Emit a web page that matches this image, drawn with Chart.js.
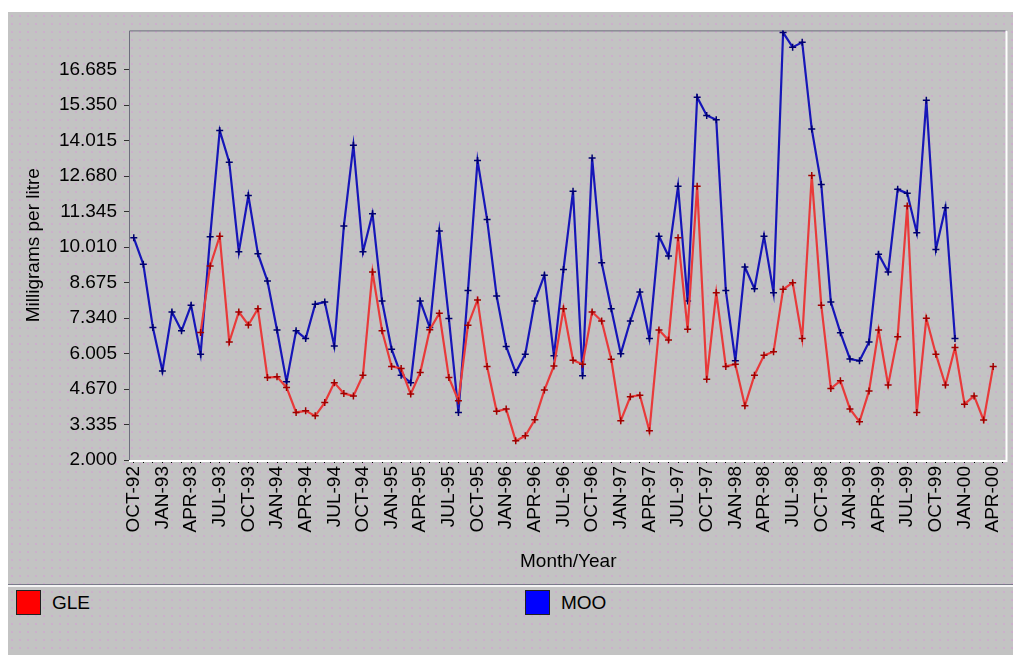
<!DOCTYPE html>
<html>
<head>
<meta charset="utf-8">
<script src="https://cdn.jsdelivr.net/npm/chart.js@4"></script>
<style>
  body { margin: 0; background: #fff; font-family: "Liberation Sans", Arial, sans-serif; }
  #panel {
    position: absolute; left: 8px; top: 12px; width: 1005px; height: 643px;
    background-color: #c3c3c3;
    background-image: radial-gradient(circle, rgba(214, 150, 214, 0.45) 0.7px, transparent 1.1px);
    background-size: 8px 8px;
  }
  #chart { position: absolute; left: 0; top: 0; }
  .sepDark { position: absolute; left: 0; top: 572px; width: 1005px; height: 1px; background: #7a7a8a; }
  .sepLight { position: absolute; left: 0; top: 573px; width: 1005px; height: 2px; background: #f4f4f4; }
  .item { position: absolute; top: 578px; height: 25px; font-size: 19px; color: #000; }
  .box { position: absolute; left: 0; top: 0; width: 23px; height: 23px; border: 1px solid #202020; }
  .item span { position: absolute; left: 36px; top: 1px; line-height: 24px; white-space: nowrap; }
</style>
</head>
<body>
<div id="panel">
  <canvas id="chart" width="1005" height="573"></canvas>
  <div class="sepDark"></div>
  <div class="sepLight"></div>
  <div id="legend"></div>
</div>
<script>
const monthNames = ["JAN", "FEB", "MAR", "APR", "MAY", "JUN", "JUL", "AUG", "SEP", "OCT", "NOV", "DEC"];
const startMonth = 9;   // OCT
const startYear = 1992;
const monthCount = 92;  // OCT-92 .. MAY-00

const labels = [];
for (let i = 0; i < monthCount; i++) {
  const m = (startMonth + i) % 12;
  const y = (startYear + Math.floor((startMonth + i) / 12)) % 100;
  labels.push(monthNames[m] + "-" + String(y).padStart(2, "0"));
}

// GLE (red), mg per litre
const gleValues = [
  null, null, null, null, null, null, null, 6.80, 9.30, 10.42,
  6.44, 7.57, 7.08, 7.69, 5.10, 5.13, 4.73, 3.79, 3.85, 3.66,
  4.16, 4.91, 4.50, 4.41, 5.19, 9.07, 6.86, 5.52, 5.44, 4.48,
  5.29, 6.90, 7.52, 5.10, 4.23, 7.07, 8.02, 5.52, 3.83, 3.92,
  2.72, 2.91, 3.51, 4.63, 5.54, 7.69, 5.75, 5.60, 7.57, 7.23,
  5.79, 3.48, 4.38, 4.44, 3.10, 6.89, 6.51, 10.36, 6.92, 12.30,
  5.04, 8.29, 5.52, 5.60, 4.04, 5.19, 5.94, 6.07, 8.42, 8.67,
  6.57, 12.70, 7.82, 4.69, 4.98, 3.92, 3.44, 4.60, 6.89, 4.82,
  6.64, 11.55, 3.79, 7.33, 5.98, 4.82, 6.23, 4.10, 4.41, 3.50,
  5.52, null
];

// MOO (blue), mg per litre
const mooValues = [
  10.36, 9.36, 6.98, 5.35, 7.57, 6.86, 7.82, 5.98, 10.40, 14.39,
  13.20, 9.83, 11.95, 9.76, 8.73, 6.89, 4.94, 6.86, 6.57, 7.86,
  7.94, 6.29, 10.80, 13.84, 9.83, 11.26, 7.98, 6.17, 5.19, 4.91,
  7.98, 6.98, 10.61, 7.32, 3.79, 8.38, 13.27, 11.05, 8.17, 6.27,
  5.29, 5.98, 7.98, 8.95, 5.92, 9.17, 12.11, 5.17, 13.36, 9.42,
  7.69, 6.00, 7.23, 8.32, 6.57, 10.42, 9.67, 12.30, 7.98, 15.65,
  14.96, 14.80, 8.38, 5.73, 9.26, 8.44, 10.42, 8.29, 18.08, 17.53,
  17.71, 14.45, 12.36, 7.94, 6.79, 5.80, 5.73, 6.44, 9.74, 9.07,
  12.18, 12.03, 10.55, 15.53, 9.92, 11.49, 6.57, null, null, null,
  null, null
];

const yMin = 2.0;
const yMax = 18.16;
const yStep = 1.335;
const yTickCount = 12;   // 2.000 .. 16.685

const seriesNames = ["GLE", "MOO"];
const seriesColors = ["#ff0000", "#0000ff"];

const fontSpec = { family: "'Liberation Sans', Arial, sans-serif", size: 19 };

// frame round the plot area: dark top/left, light bottom/right
const framePlugin = {
  id: "frame",
  beforeDatasetsDraw(chart) {
    const a = chart.chartArea;
    const ctx = chart.ctx;
    ctx.save();
    ctx.lineWidth = 1;
    ctx.strokeStyle = "#6e6e7e";
    ctx.beginPath();
    ctx.moveTo(a.left + 0.5, a.bottom);
    ctx.lineTo(a.left + 0.5, a.top + 0.5);
    ctx.lineTo(a.right, a.top + 0.5);
    ctx.stroke();
    ctx.strokeStyle = "#ffffff";
    ctx.lineWidth = 2;
    ctx.beginPath();
    ctx.moveTo(a.left, a.bottom + 1);
    ctx.lineTo(a.right - 1, a.bottom + 1);
    ctx.lineTo(a.right - 1, a.top);
    ctx.stroke();
    ctx.restore();
  }
};

const data = {
  labels: labels,
  datasets: [
    {
      label: seriesNames[0],
      data: gleValues,
      borderColor: "#e83a3a",
      borderWidth: 2.2,
      pointStyle: "cross",
      pointRadius: 3.5,
      pointBorderWidth: 1.5,
      pointBorderColor: "#a00000",
      pointBackgroundColor: "#a00000",
      tension: 0,
      spanGaps: false,
    },
    {
      label: seriesNames[1],
      data: mooValues,
      borderColor: "#1616b8",
      borderWidth: 2.2,
      pointStyle: "cross",
      pointRadius: 3.5,
      pointBorderWidth: 1.5,
      pointBorderColor: "#000070",
      pointBackgroundColor: "#000070",
      tension: 0,
      spanGaps: false,
    },
  ],
};

const config = {
  type: "line",
  data: data,
  options: {
    responsive: false,
    animation: false,
    layout: { padding: { left: 0, right: 3, top: 17, bottom: 0 } },
    plugins: {
      legend: { display: false },
      tooltip: { enabled: false },
    },
    scales: {
      x: {
        offset: true,
        border: { display: false },
        grid: { drawOnChartArea: false, drawTicks: true, tickLength: 3, color: "#000", offset: false },
        ticks: {
          autoSkip: false,
          minRotation: 90,
          maxRotation: 90,
          padding: 3,
          color: "#000",
          font: fontSpec,
          callback: (v, i) => (i % 3 === 0 ? labels[i] : ""),
        },
        title: { display: true, text: "Month/Year", color: "#000", font: fontSpec, padding: { top: 0, bottom: 12 } },
        afterFit: (scale) => {
          scale.height = 125;
          scale.paddingLeft = 0;
          scale.paddingRight = 0;
        },
      },
      y: {
        min: yMin,
        max: yMax,
        border: { display: false },
        grid: { drawOnChartArea: false, drawTicks: true, tickLength: 5, color: "#303030" },
        ticks: {
          padding: 7,
          color: "#000",
          font: fontSpec,
          callback: (v) => Number(v).toFixed(3),
        },
        afterBuildTicks: (scale) => {
          const t = [];
          for (let k = 0; k < yTickCount; k++) t.push({ value: yMin + k * yStep });
          scale.ticks = t;
        },
        title: { display: true, text: "Milligrams per litre", color: "#000", font: fontSpec, padding: { top: 14, bottom: 0 } },
        afterFit: (scale) => {
          scale.width = 121;
        },
      },
    },
  },
  plugins: [framePlugin],
};

const ctx = document.getElementById("chart");
const lineChart = new Chart(ctx, config);

// legend below the separator, two columns
const legendEl = document.getElementById("legend");
const legendLeft = [8, 517];
lineChart.data.datasets.forEach((ds, i) => {
  const item = document.createElement("div");
  item.className = "item";
  item.style.left = legendLeft[i] + "px";
  const box = document.createElement("div");
  box.className = "box";
  box.style.background = seriesColors[i];
  const txt = document.createElement("span");
  txt.textContent = ds.label;
  item.appendChild(box);
  item.appendChild(txt);
  legendEl.appendChild(item);
});
</script>
</body>
</html>
